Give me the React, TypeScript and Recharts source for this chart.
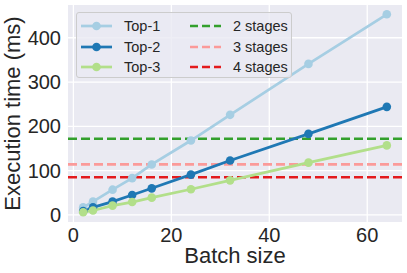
import { CartesianGrid, Label, Line, LineChart, ReferenceLine, XAxis, YAxis } from 'recharts'

const batchSizes = [2, 4, 8, 12, 16, 24, 32, 48, 64]
const top1 = [17, 30, 57, 83, 114, 168, 226, 341, 453]
const top2 = [9, 17, 30, 45, 60, 91, 123, 183, 244]
const top3 = [6, 10, 21, 29, 39, 58, 78, 118, 157]

const stageNames = ['2 stages', '3 stages', '4 stages']
const stageTimes = [172, 114, 85]

const xTicks = [0, 20, 40, 60]
const yTicks = [0, 100, 200, 300, 400]

const seriesInfo = [
  { key: 'top1', name: 'Top-1', color: '#a6cee3' },
  { key: 'top2', name: 'Top-2', color: '#1f78b4' },
  { key: 'top3', name: 'Top-3', color: '#b2df8a' },
]
const stageColors = ['#33a02c', '#fb9a99', '#e31a1c']

const chartData = batchSizes.map((b, i) => ({ batch: b, top1: top1[i], top2: top2[i], top3: top3[i] }))

const FONT = '"Liberation Sans", Arial, sans-serif'
const INK = '#262626'

function YTitle({ viewBox }: any) {
  const cy = viewBox.y + viewBox.height / 2
  return (
    <text x={12} y={cy} transform={`rotate(-90, 12, ${cy})`} textAnchor="middle" dominantBaseline="central" fontSize={22} fill={INK} fontFamily={FONT}>
      Execution time (ms)
    </text>
  )
}

function XTitle({ viewBox }: any) {
  const cx = viewBox.x + viewBox.width / 2
  return (
    <text x={cx} y={263} textAnchor="middle" fontSize={22} fill={INK} fontFamily={FONT}>
      Batch size
    </text>
  )
}

function ChartLegend() {
  const row = (color: string, label: string, dashed: boolean) => (
    <div key={label} style={{ display: 'flex', alignItems: 'center', height: 20.5 }}>
      <svg width={31} height={10} style={{ marginRight: 12 }}>
        <line x1={0} x2={31} y1={5} y2={5} stroke={color} strokeWidth={2.7} strokeDasharray={dashed ? '8 4' : undefined} />
        {!dashed && <circle cx={15.5} cy={5} r={4.3} fill={color} />}
      </svg>
      <span>{label}</span>
    </div>
  )
  return (
    <div
      style={{
        position: 'absolute',
        left: 76,
        top: 12,
        width: 216,
        height: 66,
        boxSizing: 'border-box',
        background: 'rgba(234,234,242,0.8)',
        border: '1px solid #cccccc',
        borderRadius: 3,
        display: 'flex',
        padding: '3px 0 0 4px',
        fontFamily: FONT,
        fontSize: 14.5,
        color: INK,
      }}
    >
      <div style={{ width: 109 }}>{seriesInfo.map((s) => row(s.color, s.name, false))}</div>
      <div>{stageNames.map((n, i) => row(stageColors[i], n, true))}</div>
    </div>
  )
}

export default function App() {
  return (
    <div style={{ position: 'fixed', left: 0, top: 0, width: 407, height: 273, background: '#fff' }}>
      <LineChart width={407} height={273} data={chartData} margin={{ top: 5, right: 5, bottom: 0, left: 0 }}>
        <CartesianGrid fill="#EAEAF2" stroke="#ffffff" strokeWidth={1.3} horizontalValues={yTicks} verticalValues={xTicks} />
        <XAxis
          dataKey="batch"
          type="number"
          domain={[-1.1, 67.1]}
          ticks={xTicks}
          allowDataOverflow
          axisLine={false}
          tickLine={false}
          tickSize={0}
          tickMargin={6}
          height={51}
          tick={{ fontSize: 20, fill: INK, fontFamily: FONT }}
        >
          <Label content={<XTitle />} />
        </XAxis>
        <YAxis
          type="number"
          domain={[-16, 474]}
          ticks={yTicks}
          allowDataOverflow
          axisLine={false}
          tickLine={false}
          tickSize={0}
          tickMargin={7}
          width={68}
          tick={{ fontSize: 20, fill: INK, fontFamily: FONT }}
        >
          <Label content={<YTitle />} />
        </YAxis>
        {stageTimes.map((t, i) => (
          <ReferenceLine key={stageNames[i]} y={t} stroke={stageColors[i]} strokeWidth={2.7} strokeDasharray="9 4" />
        ))}
        {seriesInfo.map((s) => (
          <Line
            key={s.key}
            dataKey={s.key}
            name={s.name}
            type="linear"
            stroke={s.color}
            strokeWidth={2.7}
            dot={{ r: 4.3, fill: s.color, stroke: 'none' }}
            activeDot={false}
            isAnimationActive={false}
          />
        ))}
      </LineChart>
      <ChartLegend />
    </div>
  )
}
